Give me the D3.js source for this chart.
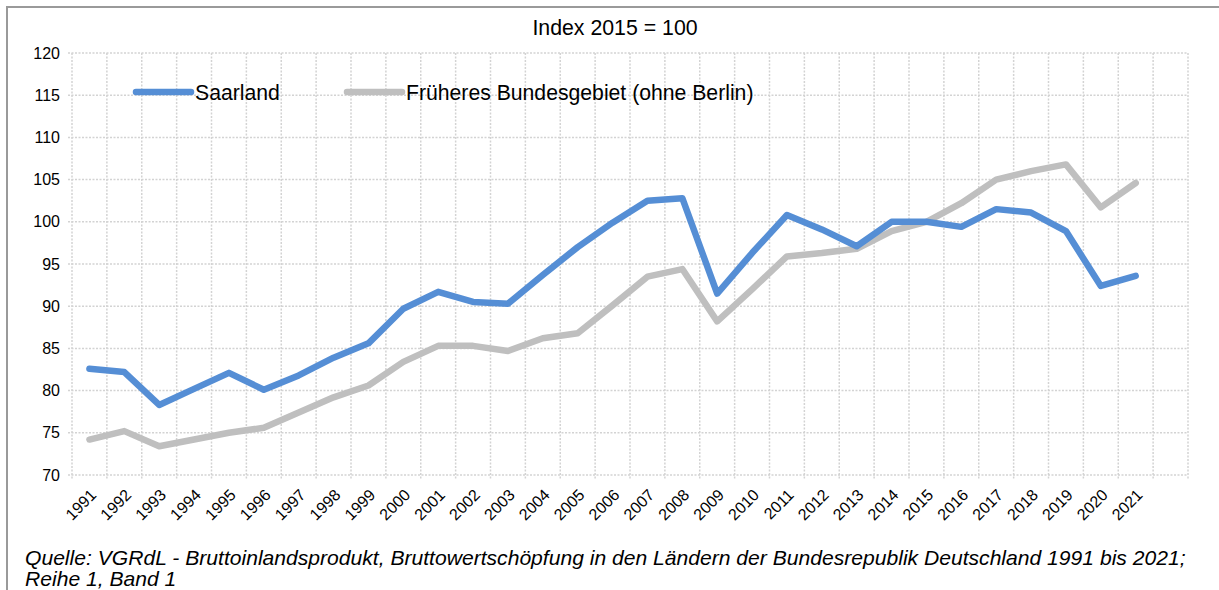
<!DOCTYPE html>
<html>
<head>
<meta charset="utf-8">
<script src="https://cdn.jsdelivr.net/npm/d3@7"></script>
<style>
  body { margin: 0; background: #fff; }
  text { font-family: "Liberation Sans", Arial, sans-serif; fill: #000; }
</style>
</head>
<body>
<div id="chart"></div>
<script>
// Werte (Index 2015 = 100)
var years = ["1991", "1992", "1993", "1994", "1995", "1996", "1997", "1998", "1999", "2000",
    "2001", "2002", "2003", "2004", "2005", "2006", "2007", "2008", "2009", "2010",
    "2011", "2012", "2013", "2014", "2015", "2016", "2017", "2018", "2019", "2020", "2021"];

var saarland = [82.6, 82.2, 78.3, 80.2, 82.1, 80.1, 81.8, 83.9, 85.6, 89.7,
    91.7, 90.5, 90.3, 93.7, 97.0, 99.9, 102.5, 102.8, 91.5, 96.3,
    100.8, 99.1, 97.1, 100.0, 100.0, 99.4, 101.5, 101.1, 98.9, 92.4, 93.6];

var bundesgebiet = [74.2, 75.2, 73.4, 74.2, 75.0, 75.6, 77.4, 79.2, 80.6, 83.4,
    85.3, 85.3, 84.7, 86.2, 86.8, 90.1, 93.5, 94.4, 88.2, 92.0,
    95.9, 96.3, 96.8, 98.9, 100.0, 102.2, 105.0, 106.0, 106.8, 101.7, 104.6];

var yTicks = [70, 75, 80, 85, 90, 95, 100, 105, 110, 115, 120];

var seriesNames = ["Saarland", "Früheres Bundesgebiet (ohne Berlin)"];
var seriesColours = ["#558ed5", "#bfbfbf"];

var width = 1219,
    height = 590;

var svg = d3.select("#chart")
    .append("svg")
    .attr("width", width)
    .attr("height", height);

// Rahmen
svg.append("rect")
    .attr("x", 7)
    .attr("y", 7)
    .attr("width", width)
    .attr("height", height)
    .style("fill", "none")
    .style("stroke", "#9a9a9a")
    .style("stroke-width", 2);

var plotLeft = 72, plotRight = 1188, plotTop = 53, plotBottom = 475;

// eine leere Kategorie am Ende, wie im Original
var slots = years.concat(["_"]);

var x = d3.scaleBand()
    .domain(slots)
    .range([plotLeft, plotRight]);

var y = d3.scaleLinear()
    .domain([70, 120])
    .range([plotBottom, plotTop]);

var grid = svg.append("g")
    .attr("class", "grid")
    .style("stroke", "#d3d3d3")
    .style("stroke-width", 1.5)
    .style("stroke-dasharray", "2,1.5");

grid.selectAll("line.h")
    .data(yTicks)
    .enter().append("line")
    .attr("class", "h")
    .attr("x1", plotLeft - 4)
    .attr("x2", plotRight)
    .attr("y1", function(d) { return y(d); })
    .attr("y2", function(d) { return y(d); });

grid.selectAll("line.v")
    .data(slots.map(function(d) { return x(d); }).concat([plotRight]))
    .enter().append("line")
    .attr("class", "v")
    .attr("x1", function(d) { return d; })
    .attr("x2", function(d) { return d; })
    .attr("y1", plotTop)
    .attr("y2", plotBottom + 4);

// y-Achse
var yAxis = svg.append("g")
    .attr("transform", "translate(" + (plotLeft - 12) + ",0)")
    .call(d3.axisLeft(y).tickValues(yTicks).tickSize(0).tickPadding(0));
yAxis.select(".domain").remove();
yAxis.selectAll("text")
    .style("font-size", "16px")
    .style("font-family", "'Liberation Sans', Arial, sans-serif");

// x-Achse
var xAxis = svg.append("g")
    .attr("transform", "translate(0," + (plotBottom + 10) + ")")
    .call(d3.axisBottom(x).tickValues(years).tickSize(0).tickPadding(0));
xAxis.select(".domain").remove();
xAxis.selectAll("text")
    .style("font-size", "16px")
    .style("font-family", "'Liberation Sans', Arial, sans-serif")
    .style("text-anchor", "end")
    .attr("dy", "0.35em")
    .attr("transform", "translate(4,7) rotate(-45)");

var line = d3.line()
    .x(function(d, i) { return x(years[i]) + x.bandwidth() / 2; })
    .y(function(d) { return y(d); });

// grau zuerst, Saarland oben
[1, 0].forEach(function(k) {
    svg.append("path")
        .datum(k === 0 ? saarland : bundesgebiet)
        .attr("d", line)
        .style("fill", "none")
        .style("stroke", seriesColours[k])
        .style("stroke-width", 6.5)
        .style("stroke-linecap", "round")
        .style("stroke-linejoin", "round");
});

// Titel
svg.append("text")
    .attr("x", 615)
    .attr("y", 35)
    .attr("text-anchor", "middle")
    .style("font-size", "21.3px")
    .text("Index 2015 = 100");

// Legende
var legendX = [136, 347];
seriesNames.forEach(function(name, k) {
    svg.append("line")
        .attr("x1", legendX[k])
        .attr("x2", legendX[k] + 55)
        .attr("y1", 92)
        .attr("y2", 92)
        .style("stroke", seriesColours[k])
        .style("stroke-width", 6.5)
        .style("stroke-linecap", "round");
    svg.append("text")
        .attr("x", legendX[k] + 59)
        .attr("y", 99.5)
        .style("font-size", "21.2px")
        .text(name);
});

// Quelle
var source = ["Quelle: VGRdL - Bruttoinlandsprodukt, Bruttowertschöpfung in den Ländern der Bundesrepublik Deutschland 1991 bis 2021;",
    "Reihe 1, Band 1"];
svg.selectAll("text.source")
    .data(source)
    .enter().append("text")
    .attr("class", "source")
    .attr("x", 25)
    .attr("y", function(d, i) { return 565 + i * 21; })
    .style("font-size", "21.1px")
    .style("font-style", "italic")
    .text(function(d) { return d; });
</script>
</body>
</html>
